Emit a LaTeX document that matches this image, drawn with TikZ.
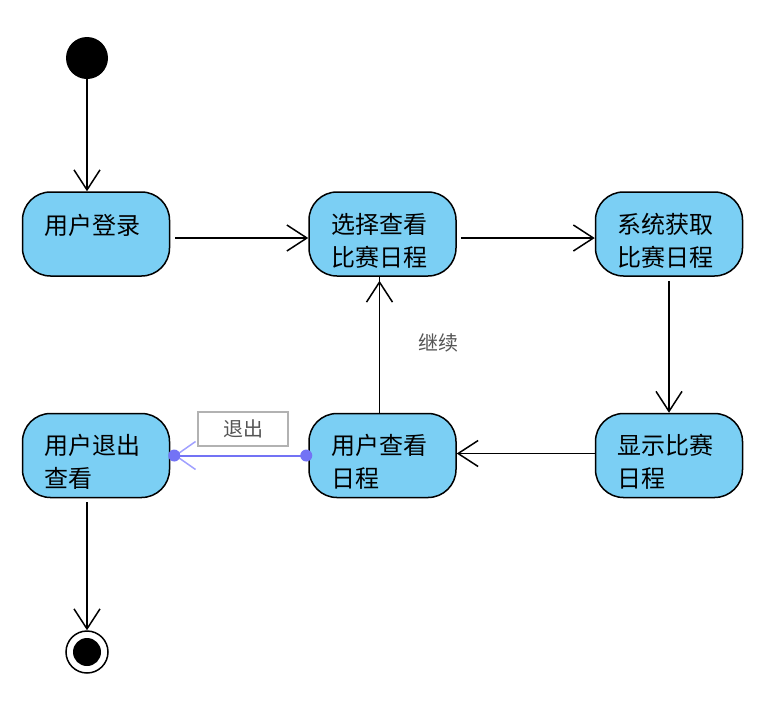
\documentclass[tikz,border=0pt]{standalone}
\usepackage{fontspec}
\setmainfont{Noto Sans CJK SC}
\usepackage{tikz}
\usetikzlibrary{arrows.meta,positioning}
\definecolor{actfill}{HTML}{7BCFF4}
\definecolor{quitblue}{HTML}{7373F5}
\definecolor{quitlight}{HTML}{A0A0FF}
\definecolor{labelgray}{HTML}{555555}
\tikzset{
  activity/.style={rounded corners=28pt, draw=black, fill=actfill, line width=1.5pt, align=left, text width=103pt, inner xsep=22pt, text height=33pt, minimum width=147pt, minimum height=84pt, font=\fontsize{24}{33}\selectfont},
  startnode/.style={circle, fill=black, minimum size=42pt, inner sep=0pt},
  endnode/.style={circle, draw=black, fill=white, line width=1.5pt, minimum size=42pt, inner sep=0pt},
  flow/.style={-{Straight Barb[length=20pt, width=26pt, line width=1.5pt]}, line width=1.5pt, draw=black},
  quitedge/.style={-{Straight Barb[length=20pt, width=28pt, line width=1.5pt, color=quitlight]}, line width=2pt, draw=quitblue},
  guard/.style={draw=black!30, line width=1.2pt, text=labelgray, minimum width=90pt, minimum height=34pt, inner sep=2pt, font=\fontsize{20}{24}\selectfont},
  note/.style={text=labelgray, font=\fontsize{20}{24}\selectfont}
}
\begin{document}
\begin{tikzpicture}[x=1pt, y=-1pt, node distance=136pt and 138pt]
  \useasboundingbox (0,0) rectangle (778,705);
  \node[startnode] (start) at (87,58) {};
  \node[activity] (login) at (96,234) {用户登录\\~};
  \node[activity, right=of login] (select) {选择查看\\比赛日程};
  \node[activity, right=of select] (fetch) {系统获取\\比赛日程};
  \node[activity, below=of fetch] (show) {显示比赛\\日程};
  \node[activity, below=of select] (view) {用户查看\\日程};
  \node[activity, below=of login] (quit) {用户退出\\查看};
  \node[endnode] (stop) at (87,652) {};
  \fill (stop) circle (14pt);
  \node[guard] (quitlabel) at (243,429) {退出};
  \node[note] (cont) at (438,343) {继续};
  \draw[flow] (start) -- (start |- login.north);
  \draw[flow] ([yshift=-4pt]login.east) ++(5,0) -- ([yshift=-4pt]select.west);
  \draw[flow] ([yshift=-4pt]select.east) ++(4,0) -- ([yshift=-4pt]fetch.west);
  \draw[flow] (fetch.south) ++(0,4) -- (show.north);
  \draw[flow] ([yshift=2pt]show.west) -- ([yshift=2pt]view.east);
  \draw[flow] ([xshift=-3pt]view.north) -- ([xshift=-3pt]select.south) ++(0,4);
  \draw[quitedge] ([xshift=-2pt]view.west) -- ([xshift=4pt]quit.east);
  \fill[quitblue] ([xshift=-2pt]view.west) circle (6pt);
  \fill[quitblue] ([xshift=4pt]quit.east) circle (6pt);
  \draw[flow] (quit.south -| stop) ++(0,4) -- (stop.north);
\end{tikzpicture}
\end{document}
